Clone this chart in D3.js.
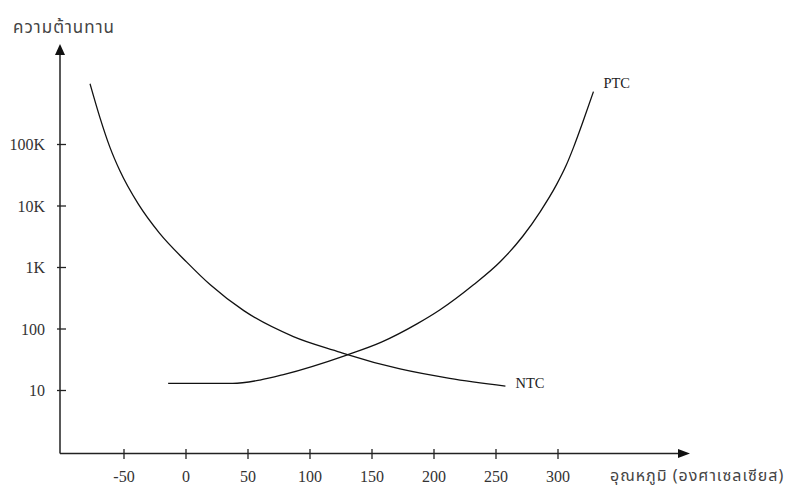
<!DOCTYPE html>
<html>
<head>
<meta charset="utf-8">
<script src="https://cdn.jsdelivr.net/npm/d3@7/dist/d3.min.js"></script>
<style>
  html, body { margin: 0; padding: 0; background: #fff; }
  svg { display: block; }
</style>
</head>
<body>
<svg id="chart" width="800" height="501"></svg>
<script>
// ---- data (temperature °C, resistance Ω) ----
const xTicks = [-50, 0, 50, 100, 150, 200, 250, 300];
const yTicks = [10, 100, 1000, 10000, 100000];
const yTickLabels = ["10", "100", "1K", "10K", "100K"];

const ntcTemp = [-77, -69, -61, -53, -38, -21, 1, 20, 47, 87, 125, 130, 173, 213, 258];
const ntcRes  = [955000, 269000, 89000, 37000, 10500, 3550, 1200, 513, 195, 74, 41, 38, 22, 15.5, 11.6];

const ptcTemp = [-14, 38, 60, 79, 130, 158, 187, 205, 232, 254, 272, 286, 299, 307, 313, 321, 329];
const ptcRes  = [12.8, 12.8, 14.5, 17.8, 37, 60, 120, 200, 510, 1230, 3160, 7900, 21400, 45000, 89000, 245000, 710000];

const yTitle = "ความต้านทาน";
const xTitle = "อุณหภูมิ (องศาเซลเซียส)";
const seriesNames = ["NTC", "PTC"];

// ---- layout ----
const svg = d3.select("#chart");
const axisX0 = 60, axisY0 = 453.5;
const x = d3.scaleLinear().domain([0, 300]).range([185.5, 557.5]);
const y = d3.scaleLog().domain([10, 100000]).range([390, 144]);

const ink = "#222";
const serif = "'Liberation Serif', 'Times New Roman', serif";
const thai = "Tahoma, 'Noto Sans Thai', 'Noto Sans', 'DejaVu Sans', sans-serif";

// axes lines
svg.append("line").attr("x1", axisX0).attr("y1", axisY0).attr("x2", axisX0).attr("y2", 52)
  .attr("stroke", ink).attr("stroke-width", 1.5);
svg.append("line").attr("x1", axisX0).attr("y1", axisY0).attr("x2", 681).attr("y2", axisY0)
  .attr("stroke", ink).attr("stroke-width", 1.5);
// arrowheads
svg.append("path").attr("d", `M${axisX0},44 L${axisX0 - 5},55 L${axisX0 + 5},55 Z`).attr("fill", "#111");
svg.append("path").attr("d", `M690,${axisY0} L678,${axisY0 - 4.5} L678,${axisY0 + 4.5} Z`).attr("fill", "#111");

// x axis ticks
const gx = svg.append("g").attr("transform", `translate(0,${axisY0 - 4.5})`)
  .call(d3.axisBottom(x).tickValues(xTicks).tickSizeInner(10).tickSizeOuter(0).tickFormat(d => String(d)));
gx.select(".domain").remove();
gx.selectAll(".tick line").attr("stroke", ink).attr("stroke-width", 1.3);
gx.selectAll(".tick text").attr("y", 33).attr("dy", 0)
  .attr("font-family", serif).attr("font-size", 16).attr("fill", "#333");

// y axis ticks
const gy = svg.append("g").attr("transform", `translate(${axisX0 + 6},0)`)
  .call(d3.axisLeft(y).tickValues(yTicks).tickSizeInner(9).tickSizeOuter(0)
    .tickFormat((d, i) => yTickLabels[i]));
gy.select(".domain").remove();
gy.selectAll(".tick line").attr("stroke", ink).attr("stroke-width", 1.3);
gy.selectAll(".tick text").attr("x", -21).attr("dy", "0.35em")
  .attr("font-family", serif).attr("font-size", 16).attr("fill", "#333");

// curves
const line = d3.line().x(d => x(d[0])).y(d => y(d[1])).curve(d3.curveMonotoneX);
const ntc = ntcTemp.map((t, i) => [t, ntcRes[i]]);
const ptc = ptcTemp.map((t, i) => [t, ptcRes[i]]);
svg.append("path").datum(ntc).attr("d", line).attr("fill", "none").attr("stroke", "#111").attr("stroke-width", 1.3);
svg.append("path").datum(ptc).attr("d", line).attr("fill", "none").attr("stroke", "#111").attr("stroke-width", 1.3);

// series labels
const ntcEnd = ntc[ntc.length - 1], ptcEnd = ptc[ptc.length - 1];
svg.append("text").attr("x", x(ntcEnd[0]) + 10).attr("y", y(ntcEnd[1]) + 2)
  .attr("font-family", serif).attr("font-size", 14.5).attr("fill", "#222").text(seriesNames[0]);
svg.append("text").attr("x", x(ptcEnd[0]) + 10).attr("y", y(ptcEnd[1]) - 4)
  .attr("font-family", serif).attr("font-size", 14.5).attr("fill", "#222").text(seriesNames[1]);

// axis titles
svg.append("text").attr("x", 13).attr("y", 33).attr("letter-spacing", 1)
  .attr("font-family", thai).attr("font-size", 17).attr("fill", "#444").text(yTitle);
svg.append("text").attr("x", 610).attr("y", 481).attr("letter-spacing", 1)
  .attr("font-family", thai).attr("font-size", 16).attr("fill", "#444").text(xTitle);
</script>
</body>
</html>
